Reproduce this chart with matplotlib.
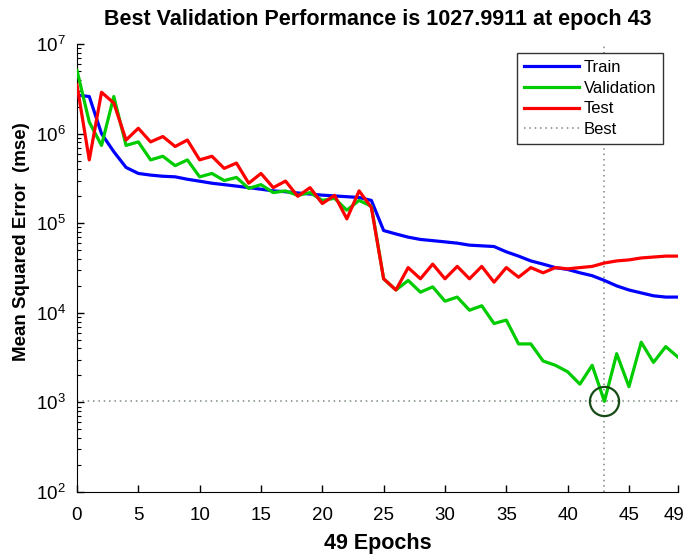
import matplotlib
matplotlib.use("Agg")
import matplotlib.pyplot as plt
import numpy as np
from matplotlib.ticker import LogLocator, NullFormatter, FixedLocator
from matplotlib.transforms import ScaledTranslation

# values, one per epoch (0..49)
epochs = list(range(50))
train = [2.7e6, 2.6e6, 1.0e6, 6.3e5, 4.2e5, 3.6e5, 3.45e5, 3.35e5, 3.3e5, 3.1e5,
         2.95e5, 2.8e5, 2.7e5, 2.6e5, 2.5e5, 2.4e5, 2.3e5, 2.25e5, 2.18e5, 2.12e5,
         2.06e5, 2.02e5, 1.98e5, 1.94e5, 1.8e5, 8.3e4, 7.6e4, 7.0e4, 6.6e4, 6.4e4,
         6.2e4, 6.0e4, 5.7e4, 5.6e4, 5.5e4, 4.8e4, 4.3e4, 3.8e4, 3.5e4, 3.2e4,
         3.05e4, 2.8e4, 2.6e4, 2.3e4, 2.0e4, 1.8e4, 1.67e4, 1.55e4, 1.5e4, 1.5e4]
validation = [5.1e6, 1.35e6, 7.4e5, 2.6e6, 7.4e5, 8.1e5, 5.1e5, 5.6e5, 4.4e5, 5.1e5,
              3.3e5, 3.6e5, 3.0e5, 3.25e5, 2.45e5, 2.7e5, 2.2e5, 2.3e5, 2.05e5, 2.2e5,
              1.8e5, 1.9e5, 1.4e5, 1.8e5, 1.55e5, 2.4e4, 1.8e4, 2.3e4, 1.7e4, 1.95e4,
              1.35e4, 1.5e4, 1.07e4, 1.2e4, 7.6e3, 8.3e3, 4.5e3, 4.5e3, 2.9e3, 2.6e3,
              2.2e3, 1.6e3, 2.6e3, 1027.9911, 3.5e3, 1.5e3, 4.7e3, 2.8e3, 4.2e3, 3.2e3]
test = [3.5e6, 5.1e5, 2.9e6, 2.2e6, 8.5e5, 1.15e6, 8.1e5, 9.3e5, 7.2e5, 8.5e5,
        5.1e5, 5.6e5, 4.1e5, 4.7e5, 2.8e5, 3.6e5, 2.5e5, 2.96e5, 2.0e5, 2.5e5,
        1.66e5, 2.05e5, 1.12e5, 2.3e5, 1.5e5, 2.4e4, 1.8e4, 3.2e4, 2.4e4, 3.5e4,
        2.4e4, 3.3e4, 2.4e4, 3.3e4, 2.2e4, 3.2e4, 2.5e4, 3.2e4, 2.8e4, 3.2e4,
        3.1e4, 3.2e4, 3.3e4, 3.6e4, 3.8e4, 3.9e4, 4.1e4, 4.2e4, 4.3e4, 4.3e4]
best_epoch = 43
best_perf = 1027.9911
xtick_vals = [0, 5, 10, 15, 20, 25, 30, 35, 40, 45, 49]

plt.rcParams['font.family'] = ['Liberation Sans', 'DejaVu Sans']
plt.rcParams['mathtext.fontset'] = 'custom'
plt.rcParams['mathtext.rm'] = 'Liberation Sans'
plt.rcParams['mathtext.default'] = 'regular'

fig = plt.figure(figsize=(6.85, 5.55), dpi=100)
ax = fig.add_axes([0.1124, 0.1135, 0.8774, 0.807])

ax.plot(epochs, train, color='#0000ff', linewidth=2.3, label='Train', zorder=3)
ax.plot(epochs, validation, color='#00cc00', linewidth=2.3, label='Validation', zorder=3)
ax.plot(epochs, test, color='#ff0000', linewidth=2.3, label='Test', zorder=3)
# best lines (dotted)
ax.axhline(best_perf, color='#7a8a7a', linestyle=(0, (1, 2.5)), linewidth=1.1, zorder=2)
ax.axvline(best_epoch, color='#7a8a7a', linestyle=(0, (1, 2.5)), linewidth=1.1, zorder=2, label='Best')
# circle around best validation point
ax.plot([best_epoch], [best_perf], marker='o', markersize=21, markerfacecolor='none',
        markeredgecolor='#164a16', markeredgewidth=1.6, linestyle='none', zorder=4)

ax.set_yscale('log')
ax.set_xlim(0, 49)
ax.set_ylim(1e2, 1e7)

ax.xaxis.set_major_locator(FixedLocator(xtick_vals))
ax.set_xticklabels([str(v) for v in xtick_vals])
ax.yaxis.set_major_locator(LogLocator(base=10, numticks=10))
ax.yaxis.set_minor_locator(LogLocator(base=10, subs=np.arange(2, 10), numticks=20))
ax.yaxis.set_minor_formatter(NullFormatter())

ax.tick_params(axis='both', which='major', direction='in', length=5, width=1, labelsize=13.5)
ax.tick_params(axis='x', which='major', pad=11)
ax.tick_params(axis='y', which='major', pad=8)
ax.tick_params(axis='y', which='minor', direction='in', length=3, width=0.8)
ax.spines['top'].set_visible(False)
ax.spines['right'].set_visible(False)

# nudge last x label so it stays inside the picture
last = ax.get_xticklabels()[-1]
last.set_transform(last.get_transform() + ScaledTranslation(-3 / 72, 0, fig.dpi_scale_trans))

ax.set_title('Best Validation Performance is 1027.9911 at epoch 43', fontsize=15.5,
             fontweight='bold', pad=14)
ax.set_xlabel('49 Epochs', fontsize=15.5, fontweight='bold', labelpad=6)
ax.set_ylabel('Mean Squared Error  (mse)', fontsize=13.5, fontweight='bold')
ax.yaxis.set_label_coords(-0.078, 0.56)

handles, labels = ax.get_legend_handles_labels()
leg = ax.legend(handles, labels, loc='upper right', bbox_to_anchor=(0.975, 0.98),
                fontsize=12, frameon=True, fancybox=False, edgecolor='#333333',
                handlelength=3.3, handletextpad=0.3, borderpad=0.4, labelspacing=0.35,
                borderaxespad=0)
leg.get_frame().set_linewidth(1.0)
leg.get_frame().set_alpha(1.0)

fig.savefig('out.png', dpi=100)
